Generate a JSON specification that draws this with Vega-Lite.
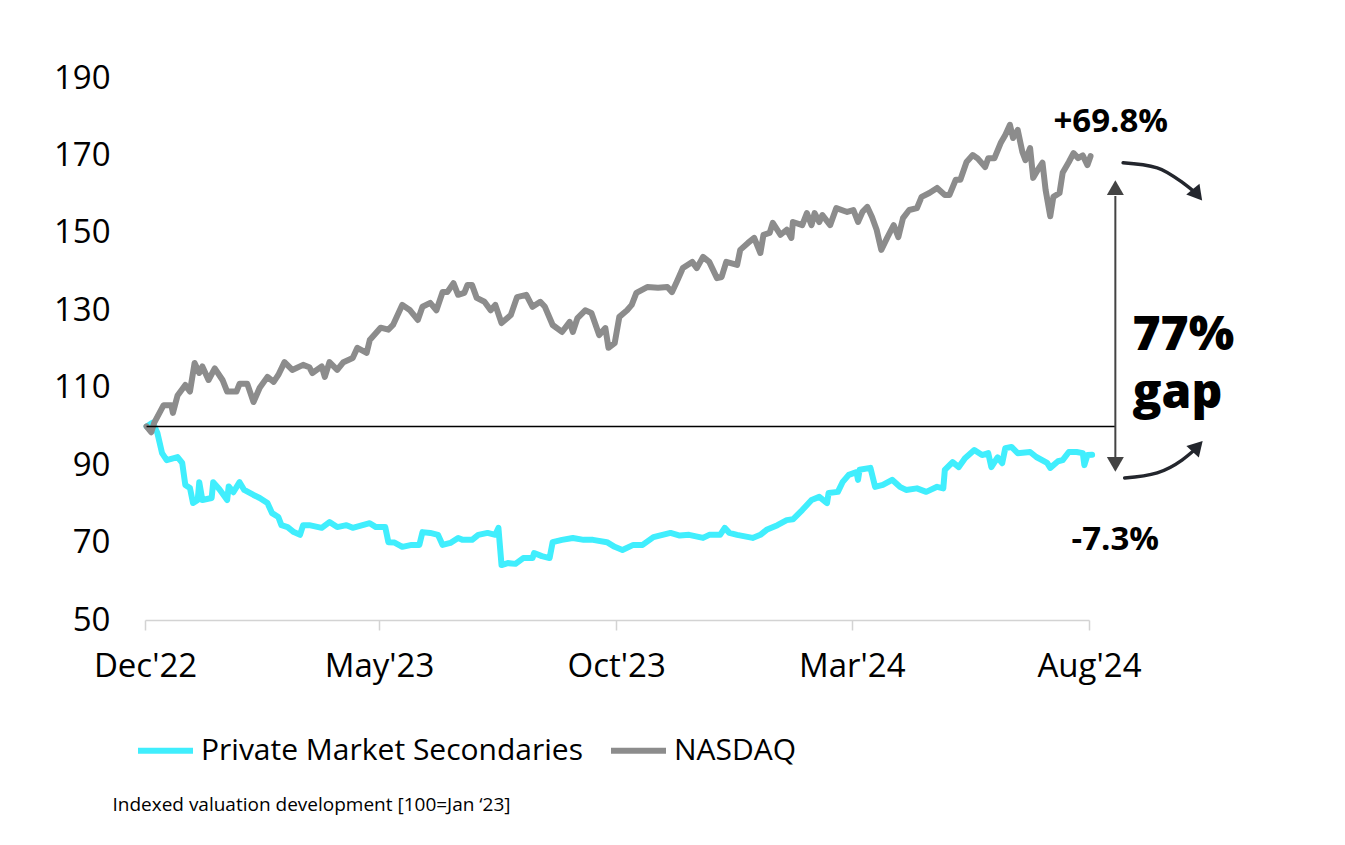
{
  "$schema": "https://vega.github.io/schema/vega-lite/v6.json",
  "width": 944,
  "height": 542,
  "autosize": {"type": "none"},
  "padding": {"left": 145, "top": 78, "right": 256, "bottom": 225},
  "background": "white",
  "config": {
    "view": {"stroke": null},
    "font": "Open Sans",
    "axis": {"labelFont": "Open Sans", "labelColor": "#000000", "grid": false, "title": null}
  },
  "layer": [
    {
      "data": {"values": [
        {"d":"2022-12-02","v":100},{"d":"2022-12-06","v":101},{"d":"2022-12-09","v":98.3},{"d":"2022-12-12","v":93.1},{"d":"2022-12-15","v":91.3},{"d":"2022-12-22","v":92.1},{"d":"2022-12-25","v":90.6},{"d":"2022-12-27","v":84.9},{"d":"2022-12-30","v":84.1},{"d":"2023-01-01","v":80.2},{"d":"2023-01-04","v":81},{"d":"2023-01-05","v":85.6},{"d":"2023-01-07","v":81},{"d":"2023-01-13","v":81.5},{"d":"2023-01-14","v":85.6},{"d":"2023-01-18","v":83.8},{"d":"2023-01-23","v":81},{"d":"2023-01-24","v":84.5},{"d":"2023-01-27","v":83},{"d":"2023-01-31","v":85.6},{"d":"2023-02-03","v":83.6},{"d":"2023-02-09","v":82.3},{"d":"2023-02-13","v":81.5},{"d":"2023-02-18","v":80.2},{"d":"2023-02-21","v":77.6},{"d":"2023-02-25","v":76.6},{"d":"2023-02-27","v":74.5},{"d":"2023-03-03","v":74},{"d":"2023-03-07","v":72.7},{"d":"2023-03-11","v":72},{"d":"2023-03-13","v":74.5},{"d":"2023-03-17","v":74.5},{"d":"2023-03-25","v":73.8},{"d":"2023-03-30","v":75.3},{"d":"2023-04-04","v":74},{"d":"2023-04-10","v":74.5},{"d":"2023-04-14","v":73.8},{"d":"2023-04-25","v":75},{"d":"2023-04-29","v":74},{"d":"2023-05-05","v":74},{"d":"2023-05-07","v":70.1},{"d":"2023-05-11","v":70},{"d":"2023-05-16","v":68.9},{"d":"2023-05-22","v":69.4},{"d":"2023-05-27","v":69.4},{"d":"2023-05-29","v":72.7},{"d":"2023-06-03","v":72.5},{"d":"2023-06-08","v":72},{"d":"2023-06-11","v":69.4},{"d":"2023-06-16","v":69.9},{"d":"2023-06-21","v":71.2},{"d":"2023-06-24","v":70.7},{"d":"2023-06-30","v":70.7},{"d":"2023-07-04","v":72},{"d":"2023-07-10","v":72.5},{"d":"2023-07-15","v":72},{"d":"2023-07-17","v":73.8},{"d":"2023-07-19","v":64.2},{"d":"2023-07-23","v":64.7},{"d":"2023-07-28","v":64.5},{"d":"2023-08-02","v":66},{"d":"2023-08-08","v":66},{"d":"2023-08-09","v":67.3},{"d":"2023-08-14","v":66.5},{"d":"2023-08-19","v":66},{"d":"2023-08-21","v":70.1},{"d":"2023-08-27","v":70.7},{"d":"2023-09-03","v":71.2},{"d":"2023-09-10","v":70.7},{"d":"2023-09-16","v":70.7},{"d":"2023-09-25","v":70.1},{"d":"2023-09-30","v":68.9},{"d":"2023-10-05","v":68.1},{"d":"2023-10-12","v":69.4},{"d":"2023-10-18","v":69.4},{"d":"2023-10-25","v":71.4},{"d":"2023-11-05","v":72.5},{"d":"2023-11-11","v":71.8},{"d":"2023-11-17","v":72},{"d":"2023-11-26","v":71.2},{"d":"2023-11-30","v":72},{"d":"2023-12-07","v":72},{"d":"2023-12-10","v":73.8},{"d":"2023-12-13","v":72.5},{"d":"2023-12-18","v":72},{"d":"2023-12-28","v":71.2},{"d":"2024-01-02","v":72},{"d":"2024-01-06","v":73.3},{"d":"2024-01-13","v":74.5},{"d":"2024-01-19","v":75.8},{"d":"2024-01-23","v":76},{"d":"2024-01-29","v":78.4},{"d":"2024-02-04","v":81},{"d":"2024-02-09","v":81.8},{"d":"2024-02-14","v":80.2},{"d":"2024-02-15","v":82.8},{"d":"2024-02-21","v":83.1},{"d":"2024-02-24","v":85.6},{"d":"2024-02-28","v":87.5},{"d":"2024-03-04","v":88.2},{"d":"2024-03-05","v":86.2},{"d":"2024-03-06","v":88.8},{"d":"2024-03-13","v":89.3},{"d":"2024-03-16","v":84.4},{"d":"2024-03-21","v":84.9},{"d":"2024-03-27","v":86.2},{"d":"2024-04-01","v":84.4},{"d":"2024-04-05","v":83.6},{"d":"2024-04-12","v":84},{"d":"2024-04-18","v":83.1},{"d":"2024-04-25","v":84.4},{"d":"2024-04-29","v":84},{"d":"2024-04-30","v":88.8},{"d":"2024-05-05","v":90.8},{"d":"2024-05-09","v":89.5},{"d":"2024-05-13","v":91.8},{"d":"2024-05-19","v":93.9},{"d":"2024-05-24","v":92.6},{"d":"2024-05-28","v":93.1},{"d":"2024-05-30","v":89.5},{"d":"2024-06-03","v":92},{"d":"2024-06-06","v":90.5},{"d":"2024-06-08","v":94.4},{"d":"2024-06-12","v":94.7},{"d":"2024-06-16","v":93.1},{"d":"2024-06-24","v":93.4},{"d":"2024-06-28","v":92.1},{"d":"2024-07-05","v":90.6},{"d":"2024-07-07","v":89.3},{"d":"2024-07-12","v":91},{"d":"2024-07-15","v":91.3},{"d":"2024-07-19","v":93.4},{"d":"2024-07-24","v":93.4},{"d":"2024-07-28","v":93.1},{"d":"2024-07-29","v":90},{"d":"2024-07-31","v":92.6},{"d":"2024-08-03","v":92.7}
      ]},
      "mark": {"type": "line", "strokeWidth": 6, "strokeJoin": "round", "strokeCap": "round"},
      "encoding": {
        "x": {
          "field": "d", "type": "temporal",
          "scale": {"type": "utc", "domain": [{"year": 2022, "month": 12, "date": 1, "utc": true}, {"year": 2024, "month": 8, "date": 1, "utc": true}]},
          "axis": {
            "values": [{"year": 2022, "month": 12, "date": 1, "utc": true}, {"year": 2023, "month": 5, "date": 1, "utc": true}, {"year": 2023, "month": 10, "date": 1, "utc": true}, {"year": 2024, "month": 3, "date": 1, "utc": true}, {"year": 2024, "month": 8, "date": 1, "utc": true}],
            "format": "%b'%y",
            "domainColor": "#d3d3d3", "domainWidth": 1.5,
            "tickColor": "#d3d3d3", "tickWidth": 1.5, "tickSize": 10,
            "labelFontSize": 33, "labelPadding": 20, "labelFlush": false, "labelOverlap": false
          }
        },
        "y": {
          "field": "v", "type": "quantitative",
          "scale": {"domain": [50, 190], "nice": false, "zero": false},
          "axis": {"values": [50, 70, 90, 110, 130, 150, 170, 190], "domain": false, "ticks": false, "tickSize": 0, "labelFontSize": 33, "labelPadding": 35}
        },
        "color": {
          "datum": "Private Market Secondaries",
          "scale": {"domain": ["Private Market Secondaries", "NASDAQ"], "range": ["#40EEFD", "#8C8C8C"]},
          "legend": {
            "title": null, "orient": "none", "legendX": -10, "legendY": 642, "direction": "horizontal",
            "symbolType": "stroke", "symbolStrokeWidth": 6, "symbolSize": 3025,
            "labelFontSize": 30, "labelFont": "Open Sans", "labelColor": "#000000", "labelOffset": 5, "columnPadding": 16, "labelLimit": 0
          }
        }
      }
    },
    {
      "data": {"values": [
        {"d":"2022-12-02","v":100},{"d":"2022-12-05","v":98.5},{"d":"2022-12-07","v":101},{"d":"2022-12-13","v":105.5},{"d":"2022-12-18","v":105.5},{"d":"2022-12-19","v":103.5},{"d":"2022-12-22","v":108},{"d":"2022-12-27","v":110.7},{"d":"2022-12-30","v":109},{"d":"2023-01-02","v":116.4},{"d":"2023-01-05","v":113.8},{"d":"2023-01-07","v":115.5},{"d":"2023-01-11","v":112},{"d":"2023-01-15","v":115},{"d":"2023-01-20","v":112},{"d":"2023-01-23","v":109},{"d":"2023-01-29","v":109},{"d":"2023-01-31","v":111},{"d":"2023-02-05","v":111},{"d":"2023-02-09","v":106.3},{"d":"2023-02-13","v":110},{"d":"2023-02-18","v":112.8},{"d":"2023-02-22","v":111.5},{"d":"2023-02-25","v":113.3},{"d":"2023-03-01","v":116.6},{"d":"2023-03-06","v":114.6},{"d":"2023-03-13","v":115.9},{"d":"2023-03-17","v":115.3},{"d":"2023-03-19","v":113.8},{"d":"2023-03-25","v":115.5},{"d":"2023-03-27","v":112.8},{"d":"2023-03-30","v":116.6},{"d":"2023-04-04","v":114.6},{"d":"2023-04-08","v":116.6},{"d":"2023-04-14","v":117.7},{"d":"2023-04-17","v":120.3},{"d":"2023-04-23","v":119},{"d":"2023-04-25","v":122.3},{"d":"2023-05-02","v":125.5},{"d":"2023-05-07","v":125},{"d":"2023-05-10","v":126.2},{"d":"2023-05-16","v":131.4},{"d":"2023-05-21","v":130},{"d":"2023-05-26","v":127.5},{"d":"2023-05-29","v":130.9},{"d":"2023-06-03","v":131.9},{"d":"2023-06-07","v":130},{"d":"2023-06-11","v":134.7},{"d":"2023-06-14","v":134.7},{"d":"2023-06-18","v":137},{"d":"2023-06-21","v":134},{"d":"2023-06-25","v":134.5},{"d":"2023-06-27","v":136.5},{"d":"2023-06-30","v":136.5},{"d":"2023-07-03","v":133.2},{"d":"2023-07-08","v":132.2},{"d":"2023-07-12","v":130},{"d":"2023-07-15","v":131.4},{"d":"2023-07-19","v":126.7},{"d":"2023-07-25","v":128.8},{"d":"2023-07-29","v":133.4},{"d":"2023-08-04","v":134},{"d":"2023-08-08","v":130.9},{"d":"2023-08-13","v":132.2},{"d":"2023-08-16","v":130.9},{"d":"2023-08-21","v":126.2},{"d":"2023-08-27","v":124.4},{"d":"2023-09-01","v":127},{"d":"2023-09-03","v":124.4},{"d":"2023-09-06","v":128},{"d":"2023-09-11","v":130},{"d":"2023-09-15","v":129.3},{"d":"2023-09-20","v":123.6},{"d":"2023-09-24","v":125.4},{"d":"2023-09-26","v":120.3},{"d":"2023-09-30","v":121.5},{"d":"2023-10-03","v":128.3},{"d":"2023-10-08","v":130},{"d":"2023-10-11","v":131.4},{"d":"2023-10-14","v":134.5},{"d":"2023-10-21","v":136},{"d":"2023-10-28","v":135.8},{"d":"2023-11-03","v":136},{"d":"2023-11-06","v":134.7},{"d":"2023-11-09","v":137.3},{"d":"2023-11-13","v":140.9},{"d":"2023-11-19","v":142.5},{"d":"2023-11-22","v":140.9},{"d":"2023-11-26","v":143.8},{"d":"2023-11-30","v":142.5},{"d":"2023-12-05","v":138.3},{"d":"2023-12-08","v":138.6},{"d":"2023-12-11","v":142.5},{"d":"2023-12-18","v":141.7},{"d":"2023-12-20","v":145.6},{"d":"2023-12-25","v":147.4},{"d":"2023-12-29","v":148.7},{"d":"2024-01-02","v":144.8},{"d":"2024-01-04","v":149.5},{"d":"2024-01-08","v":150},{"d":"2024-01-10","v":152.6},{"d":"2024-01-15","v":149.5},{"d":"2024-01-19","v":150.8},{"d":"2024-01-22","v":148.7},{"d":"2024-01-23","v":152.8},{"d":"2024-01-29","v":152},{"d":"2024-02-01","v":155.1},{"d":"2024-02-04","v":152},{"d":"2024-02-06","v":155.1},{"d":"2024-02-09","v":152.8},{"d":"2024-02-11","v":154.6},{"d":"2024-02-16","v":152},{"d":"2024-02-20","v":156.4},{"d":"2024-02-27","v":155.4},{"d":"2024-03-02","v":155.9},{"d":"2024-03-05","v":152.8},{"d":"2024-03-08","v":155.5},{"d":"2024-03-11","v":156.7},{"d":"2024-03-14","v":154.1},{"d":"2024-03-17","v":150.8},{"d":"2024-03-20","v":145.6},{"d":"2024-03-24","v":148.9},{"d":"2024-03-28","v":152},{"d":"2024-03-31","v":148.9},{"d":"2024-04-03","v":153.8},{"d":"2024-04-07","v":155.9},{"d":"2024-04-12","v":156.4},{"d":"2024-04-15","v":159.3},{"d":"2024-04-20","v":160.3},{"d":"2024-04-25","v":161.6},{"d":"2024-04-30","v":159.8},{"d":"2024-05-03","v":159.8},{"d":"2024-05-07","v":163.7},{"d":"2024-05-10","v":163.7},{"d":"2024-05-14","v":168.3},{"d":"2024-05-18","v":170.1},{"d":"2024-05-21","v":169.3},{"d":"2024-05-26","v":167},{"d":"2024-05-28","v":169.3},{"d":"2024-06-01","v":169.3},{"d":"2024-06-05","v":173.2},{"d":"2024-06-08","v":175.3},{"d":"2024-06-11","v":177.9},{"d":"2024-06-13","v":174.5},{"d":"2024-06-16","v":176.6},{"d":"2024-06-19","v":170.9},{"d":"2024-06-21","v":168.8},{"d":"2024-06-24","v":171.9},{"d":"2024-06-26","v":164.2},{"d":"2024-06-29","v":166.3},{"d":"2024-07-02","v":168.1},{"d":"2024-07-04","v":161.1},{"d":"2024-07-07","v":154.3},{"d":"2024-07-09","v":159.3},{"d":"2024-07-13","v":160.3},{"d":"2024-07-15","v":165.5},{"d":"2024-07-19","v":168.3},{"d":"2024-07-22","v":170.6},{"d":"2024-07-25","v":169.3},{"d":"2024-07-28","v":170},{"d":"2024-07-31","v":167.5},{"d":"2024-08-02","v":169.8}
      ]},
      "mark": {"type": "line", "strokeWidth": 6, "strokeJoin": "round", "strokeCap": "round"},
      "encoding": {
        "x": {"field": "d", "type": "temporal"},
        "y": {"field": "v", "type": "quantitative"},
        "color": {"datum": "NASDAQ"}
      }
    },
    {
      "data": {"values": [{"d": "2022-12-02", "d2": "2024-08-18", "v": 100}]},
      "mark": {"type": "rule", "color": "#000000", "strokeWidth": 1.5},
      "encoding": {"x": {"field": "d", "type": "temporal"}, "x2": {"field": "d2"}, "y": {"field": "v", "type": "quantitative"}}
    },
    {
      "data": {"values": [{"d": "2024-08-18", "v": 159.5, "v2": 91.8}]},
      "mark": {"type": "rule", "color": "#444444", "strokeWidth": 2},
      "encoding": {"x": {"field": "d", "type": "temporal"}, "y": {"field": "v", "type": "quantitative"}, "y2": {"field": "v2"}}
    },
    {
      "data": {"values": [{"d": "2024-08-18", "v": 161.7, "sh": "triangle-up"}, {"d": "2024-08-18", "v": 90.2, "sh": "triangle-down"}]},
      "mark": {"type": "point", "filled": true, "size": 289, "color": "#444444", "opacity": 1},
      "encoding": {"x": {"field": "d", "type": "temporal"}, "y": {"field": "v", "type": "quantitative"}, "shape": {"field": "sh", "type": "nominal", "scale": null}}
    },
    {
      "data": {"values": [
        {"id": "a", "d": "2024-08-23", "v": 168.1}, {"id": "a", "d": "2024-09-14", "v": 166.8}, {"id": "a", "d": "2024-09-30", "v": 163.1}, {"id": "a", "d": "2024-10-08", "v": 160.6},
        {"id": "b", "d": "2024-08-24", "v": 86.7}, {"id": "b", "d": "2024-09-14", "v": 88.0}, {"id": "b", "d": "2024-09-30", "v": 91.3}, {"id": "b", "d": "2024-10-08", "v": 93.9}
      ]},
      "mark": {"type": "line", "interpolate": "monotone", "color": "#23262D", "strokeWidth": 3.5, "strokeCap": "round"},
      "encoding": {"x": {"field": "d", "type": "temporal"}, "y": {"field": "v", "type": "quantitative"}, "detail": {"field": "id"}}
    },
    {
      "data": {"values": [{"d": "2024-10-09", "v": 160.3, "a": 141}, {"d": "2024-10-09", "v": 94.4, "a": 43}]},
      "mark": {"type": "point", "shape": "triangle", "filled": true, "size": 289, "color": "#23262D", "opacity": 1},
      "encoding": {"x": {"field": "d", "type": "temporal"}, "y": {"field": "v", "type": "quantitative"}, "angle": {"field": "a", "type": "quantitative", "scale": null}}
    },
    {
      "data": {"values": [{"d": "2024-08-15", "v": 176.1, "t": "+69.8%"}, {"d": "2024-08-18", "v": 68.1, "t": "-7.3%"}]},
      "mark": {"type": "text", "align": "center", "baseline": "alphabetic", "font": "Open Sans", "fontSize": 33, "fontWeight": "bold", "color": "#000000"},
      "encoding": {"x": {"field": "d", "type": "temporal"}, "y": {"field": "v", "type": "quantitative"}, "text": {"field": "t"}}
    },
    {
      "data": {"values": [{"d": "2024-08-29", "v": 119.7, "t": "77%"}, {"d": "2024-08-29", "v": 104.8, "t": "gap"}]},
      "mark": {"type": "text", "align": "left", "baseline": "alphabetic", "font": "Open Sans", "fontSize": 48, "fontWeight": 800, "color": "#000000"},
      "encoding": {"x": {"field": "d", "type": "temporal"}, "y": {"field": "v", "type": "quantitative"}, "text": {"field": "t"}}
    },
    {
      "data": {"values": [{"d": "2022-11-10", "v": 2.2, "t": "Indexed valuation development [100=Jan ‘23]"}]},
      "mark": {"type": "text", "align": "left", "baseline": "middle", "font": "Open Sans", "fontSize": 19, "color": "#000000"},
      "encoding": {"x": {"field": "d", "type": "temporal"}, "y": {"field": "v", "type": "quantitative"}, "text": {"field": "t"}}
    }
  ]
}
